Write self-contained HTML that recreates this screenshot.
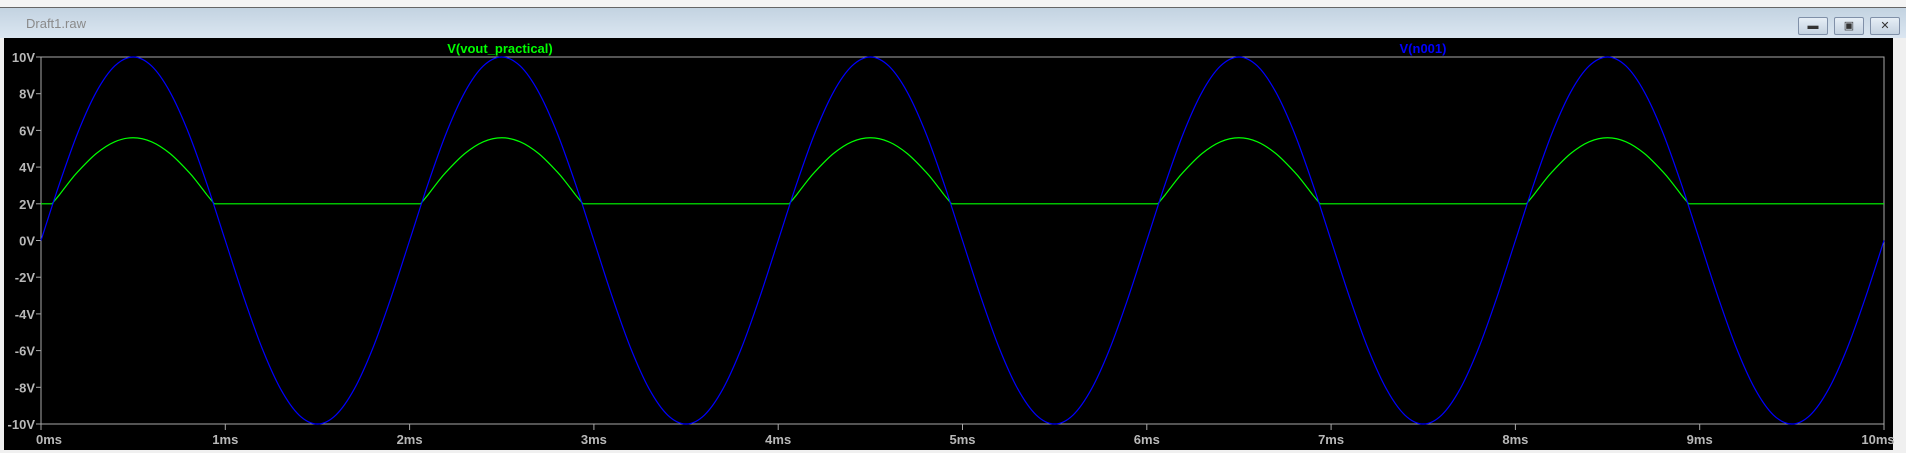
<!DOCTYPE html>
<html><head><meta charset="utf-8"><style>
body{margin:0;width:1906px;height:453px;overflow:hidden;background:#f0f0f0;font-family:"Liberation Sans",sans-serif}
#tab{position:absolute;left:0;top:0;width:1906px;height:7px;background:#f4f4f4;border-bottom:1px solid #666}
#title{position:absolute;left:0;top:8px;width:1906px;height:30px;background:linear-gradient(#c3d3e1,#dbe6f1)}
#title span{position:absolute;left:26px;top:8px;font-size:13px;color:#8a8a8a}
.btn{position:absolute;top:9px;width:28px;height:16px;border:1px solid #8090a8;border-radius:2px;background:linear-gradient(#e6eef6,#c4d2e0);font-size:11px;text-align:center;line-height:16px;color:#333}
#panel{position:absolute;left:4px;top:38px;width:1889px;height:412px;background:#000}
</style></head><body>
<div id="tab"></div>
<div id="title"><span>Draft1.raw</span>
<div class="btn" style="left:1798px">▬</div>
<div class="btn" style="left:1834px">▣</div>
<div class="btn" style="left:1870px">✕</div></div>
<div id="panel"></div>
<svg id="c" width="1906" height="453" style="position:absolute;left:0;top:0"></svg>
<script>
const yTicks=[10,8,6,4,2,0,-2,-4,-6,-8,-10];
const xTicks=[0,1,2,3,4,5,6,7,8,9,10];
const blueV=[0,3.09,5.88,8.09,9.51,10,9.51,8.09,5.88,3.09,0,-3.09,-5.88,-8.09,-9.51,-10,-9.51,-8.09,-5.88,-3.09,
0,3.09,5.88,8.09,9.51,10,9.51,8.09,5.88,3.09,0,-3.09,-5.88,-8.09,-9.51,-10,-9.51,-8.09,-5.88,-3.09,
0,3.09,5.88,8.09,9.51,10,9.51,8.09,5.88,3.09,0,-3.09,-5.88,-8.09,-9.51,-10,-9.51,-8.09,-5.88,-3.09,
0,3.09,5.88,8.09,9.51,10,9.51,8.09,5.88,3.09,0,-3.09,-5.88,-8.09,-9.51,-10,-9.51,-8.09,-5.88,-3.09,
0,3.09,5.88,8.09,9.51,10,9.51,8.09,5.88,3.09,0,-3.09,-5.88,-8.09,-9.51,-10,-9.51,-8.09,-5.88,-3.09,0];
const greenT=[0,0.06,0.1,0.15,0.2,0.3,0.4,0.5,0.6,0.7,0.8,0.85,0.9,0.94,
2.06,2.1,2.15,2.2,2.3,2.4,2.5,2.6,2.7,2.8,2.85,2.9,2.94,
4.06,4.1,4.15,4.2,4.3,4.4,4.5,4.6,4.7,4.8,4.85,4.9,4.94,
6.06,6.1,6.15,6.2,6.3,6.4,6.5,6.6,6.7,6.8,6.85,6.9,6.94,
8.06,8.1,8.15,8.2,8.3,8.4,8.5,8.6,8.7,8.8,8.85,8.9,8.94,10];
const greenV=[2,2,2.49,3.15,3.75,4.74,5.38,5.6,5.38,4.74,3.75,3.15,2.49,2,
2,2.49,3.15,3.75,4.74,5.38,5.6,5.38,4.74,3.75,3.15,2.49,2,
2,2.49,3.15,3.75,4.74,5.38,5.6,5.38,4.74,3.75,3.15,2.49,2,
2,2.49,3.15,3.75,4.74,5.38,5.6,5.38,4.74,3.75,3.15,2.49,2,
2,2.49,3.15,3.75,4.74,5.38,5.6,5.38,4.74,3.75,3.15,2.49,2,2];
const L=41,R=1884,T=57,B=424;
const X=t=>L+(t/10)*(R-L), Y=v=>T+(10-v)/20*(B-T);
const svg=document.getElementById('c'),NS='http://www.w3.org/2000/svg';
function mk(tag,a){const e=document.createElementNS(NS,tag);for(const k in a)e.setAttribute(k,a[k]);svg.appendChild(e);return e;}
function smooth(pts,flat){
 let d='M'+pts[0][0]+','+pts[0][1];
 for(let i=0;i<pts.length-1;i++){
  const p1=pts[i],p2=pts[i+1];
  if(flat&&flat(i)){d+=' L'+p2[0]+','+p2[1];continue;}
  const p0=pts[Math.max(i-1,0)],p3=pts[Math.min(i+2,pts.length-1)];
  d+=' C'+(p1[0]+(p2[0]-p0[0])/6)+','+(p1[1]+(p2[1]-p0[1])/6)+' '+(p2[0]-(p3[0]-p1[0])/6)+','+(p2[1]-(p3[1]-p1[1])/6)+' '+p2[0]+','+p2[1];}
 return d;}
let f=mk('rect',{x:L,y:T,width:R-L,height:B-T,fill:'none',stroke:'#a8a8a8','stroke-width':1});


yTicks.forEach(v=>{
 let l=mk('line',{x1:L-5,x2:L,y1:Y(v),y2:Y(v),stroke:'#a8a8a8'});
 
 
 let t=mk('text',{x:L-6,y:Y(v)+5,'text-anchor':'end','font-size':13,'font-weight':'bold',fill:'#b8b8b8','font-family':'Liberation Sans, sans-serif'});
 t.textContent=v+'V';
 
 
});
xTicks.forEach(v=>{
 let l=mk('line',{x1:X(v),x2:X(v),y1:B,y2:B+6,stroke:'#a8a8a8'});
 
 
 let t=mk('text',{x:X(v)+(v==0?8:v==10?-6:0),y:B+20,'text-anchor':'middle','font-size':13,'font-weight':'bold',fill:'#b8b8b8','font-family':'Liberation Sans, sans-serif'});
 t.textContent=v+'ms';
 
 
});
let bpts=blueV.map((v,i)=>[X(i*0.1),Y(v)]);
let gpts=greenT.map((t,i)=>[X(t),Y(greenV[i])]);
let gd=smooth(gpts,i=>greenV[i]<=2.001||greenV[i+1]<=2.001);
let g=mk('path',{d:gd,fill:'none',stroke:'#00ff00','stroke-width':1.2});


let b=mk('path',{d:smooth(bpts),fill:'none',stroke:'#0000ff','stroke-width':1.2});


let l1=mk('text',{x:500,y:53,'text-anchor':'middle','font-size':13,'font-weight':'bold',fill:'#00ff00','font-family':'Liberation Sans, sans-serif'});
l1.textContent='V(vout_practical)';


let l2=mk('text',{x:1423,y:53,'text-anchor':'middle','font-size':13,'font-weight':'bold',fill:'#0000ff','font-family':'Liberation Sans, sans-serif'});
l2.textContent='V(n001)';


</script>
</body></html>
